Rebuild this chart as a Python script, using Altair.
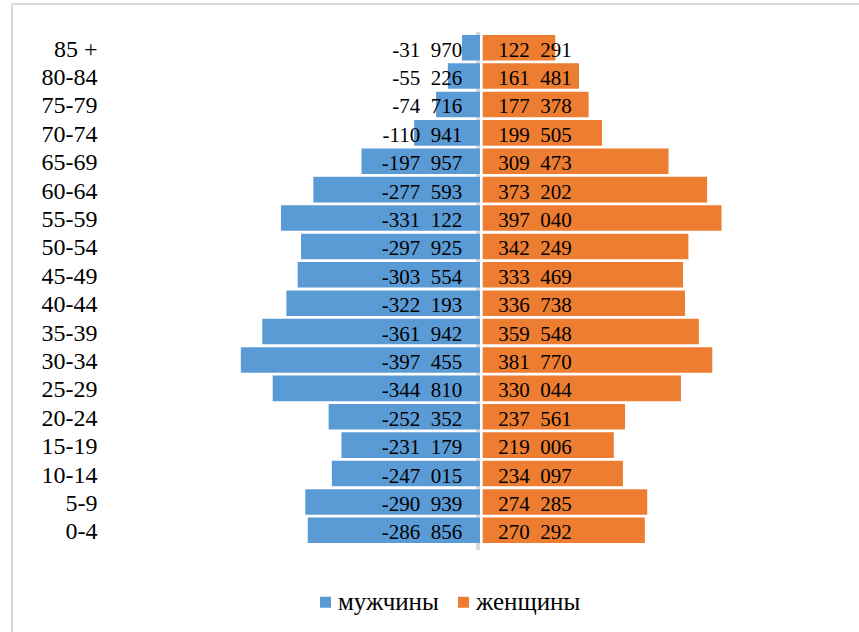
import altair as alt
import pandas as pd

ages = ["85 +", "80-84", "75-79", "70-74", "65-69", "60-64", "55-59", "50-54", "45-49",
        "40-44", "35-39", "30-34", "25-29", "20-24", "15-19", "10-14", "5-9", "0-4"]
men = [-31970, -55226, -74716, -110941, -197957, -277593, -331122, -297925, -303554,
       -322193, -361942, -397455, -344810, -252352, -231179, -247015, -290939, -286856]
women = [122291, 161481, 177378, 199505, 309473, 373202, 397040, 342249, 333469,
         336738, 359548, 381770, 330044, 237561, 219006, 234097, 274285, 270292]
series = ["мужчины", "женщины"]
colors = ["#5B9BD5", "#ED7D31"]


def fmt(v):
    return f"{v:,}".replace(",", "\u2002")


rows = []
for a, m, w in zip(ages, men, women):
    rows.append({"age": a, "sex": series[0], "value": m, "zero": 0, "label": fmt(m)})
    rows.append({"age": a, "sex": series[1], "value": w, "zero": 0, "label": fmt(w)})
df = pd.DataFrame(rows)

FONT = "Liberation Serif"
W, H = 742, 511
PL, PT = 110, 33.5

yenc = alt.Y("age:N", sort=ages,
             scale=alt.Scale(paddingInner=0.1, paddingOuter=0.05),
             axis=alt.Axis(title=None, domain=False, ticks=False, grid=False,
                           labelFont=FONT, labelFontSize=24, labelColor="black",
                           labelPadding=13, labelAlign="right", labelOffset=2))
xscale = alt.Scale(domain=[-613700, 612700], nice=False, zero=False)
xzero = alt.X("zero:Q", scale=xscale, axis=None)
color = alt.Color("sex:N", scale=alt.Scale(domain=series, range=colors),
                  legend=alt.Legend(title=None, orient="none", direction="horizontal",
                                    legendX=203, legendY=556, symbolType="square",
                                    symbolSize=121, symbolStrokeWidth=0,
                                    labelFont=FONT, labelFontSize=25, labelColor="black",
                                    columnPadding=12, labelOffset=0, padding=0))

base = alt.Chart(df)

frame_left = base.mark_rule(color="#D9D9D9", strokeWidth=2).encode(
    x=alt.value(12 - PL), y=alt.value(4 - PT), y2=alt.value(700))
frame_top = base.mark_rule(color="#D9D9D9", strokeWidth=2).encode(
    x=alt.value(12 - PL), x2=alt.value(900), y=alt.value(4 - PT))

axis_line = base.mark_rule(color="#D9D9D9", strokeWidth=4, xOffset=-3.3).encode(
    x=xzero, y=alt.value(-1.5), y2=alt.value(H + 5.5))

men_bars = base.transform_filter(alt.datum.sex == series[0]).mark_bar(x2Offset=-1.3).encode(
    x=alt.X("value:Q", scale=xscale, axis=None), x2="zero:Q", y=yenc, color=color)
women_bars = base.transform_filter(alt.datum.sex == series[1]).mark_bar(x2Offset=1.4).encode(
    x=alt.X("value:Q", scale=xscale, axis=None), x2="zero:Q", y=yenc, color=color)

men_text = base.transform_filter(alt.datum.sex == series[0]).mark_text(
    align="right", baseline="middle", dx=-19, dy=3, font=FONT, fontSize=21, color="black"
).encode(x=xzero, y=yenc, text="label:N")
women_text = base.transform_filter(alt.datum.sex == series[1]).mark_text(
    align="left", baseline="middle", dx=17, dy=3, font=FONT, fontSize=21, color="black"
).encode(x=xzero, y=yenc, text="label:N")

chart = alt.layer(frame_left, frame_top, axis_line, men_bars, women_bars, men_text, women_text).properties(
    width=W, height=H,
    autosize=alt.AutoSizeParams(type="none"),
    padding={"left": PL, "top": PT, "right": 859 - PL - W, "bottom": 632 - PT - H},
    background="white",
).configure_view(stroke=None)

chart.save("out.html", embed_options={"renderer": "svg", "actions": False})
